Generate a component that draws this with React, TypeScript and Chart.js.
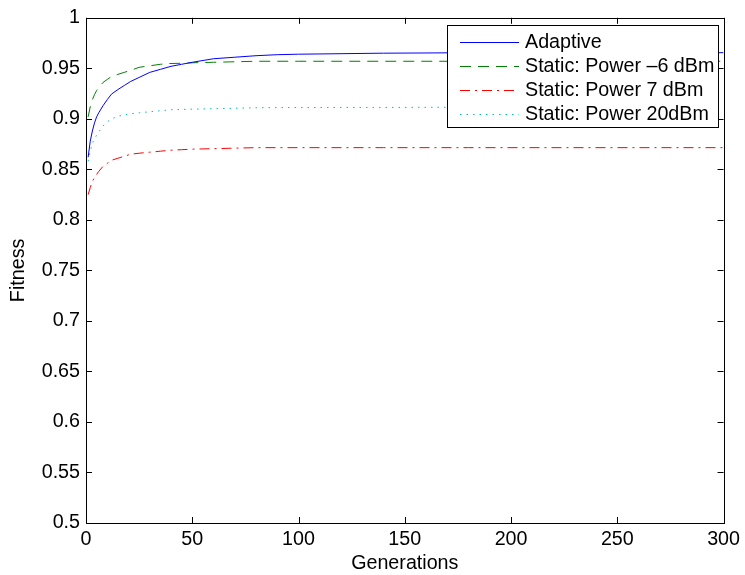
import React, { useEffect, useRef } from "react";
import { Chart, registerables } from "chart.js";
Chart.register(...registerables);

const generations = [1, 2, 3, 4, 5, 6, 8, 10, 12, 15, 18, 21, 25, 30, 35, 40, 45, 50, 60, 70, 80, 90, 100, 120, 140, 160, 180, 200, 250, 300];
const adaptive = [0.862, 0.878, 0.888, 0.896, 0.902, 0.906, 0.913, 0.919, 0.9245, 0.929, 0.933, 0.937, 0.941, 0.946, 0.949, 0.952, 0.954, 0.956, 0.9595, 0.961, 0.9625, 0.9635, 0.964, 0.9645, 0.965, 0.9652, 0.9655, 0.9655, 0.9655, 0.9655];
const staticMinus6 = [0.902, 0.912, 0.919, 0.924, 0.928, 0.931, 0.936, 0.939, 0.942, 0.944, 0.946, 0.948, 0.951, 0.9525, 0.954, 0.9548, 0.955, 0.9555, 0.956, 0.9565, 0.957, 0.957, 0.957, 0.957, 0.957, 0.957, 0.957, 0.957, 0.957, 0.957];
const static7 = [0.825, 0.832, 0.838, 0.842, 0.845, 0.848, 0.853, 0.856, 0.859, 0.861, 0.863, 0.865, 0.866, 0.867, 0.868, 0.869, 0.8695, 0.87, 0.8705, 0.871, 0.8715, 0.8715, 0.8715, 0.8715, 0.8715, 0.8715, 0.8715, 0.8715, 0.8715, 0.8715];
const static20 = [0.858, 0.868, 0.876, 0.88, 0.884, 0.887, 0.893, 0.897, 0.9, 0.9025, 0.904, 0.905, 0.906, 0.907, 0.908, 0.909, 0.9093, 0.9096, 0.91, 0.9105, 0.911, 0.9112, 0.9112, 0.9113, 0.9113, 0.9114, 0.9114, 0.9115, 0.9115, 0.9115];

const seriesLabels = ["Adaptive", "Static: Power \u20136 dBm", "Static: Power 7 dBm", "Static: Power 20dBm"];
const seriesColors = ["#0000ff", "#008000", "#ff0000", "#00bfbf"];
const seriesDashes: number[][] = [[], [11, 7], [10, 5, 2, 5], [1.5, 5]];

const xTicks = [0, 50, 100, 150, 200, 250, 300];
const yTicks = [0.5, 0.55, 0.6, 0.65, 0.7, 0.75, 0.8, 0.85, 0.9, 0.95, 1];

const FONT = "'Liberation Sans', Arial, Helvetica, sans-serif";
const FS = 19.7;

const boxPlugin = {
  id: "matlabBox",
  afterDraw(chart: any) {
    const ctx = chart.ctx;
    const { left, right, top, bottom } = chart.chartArea;
    const xs = chart.scales.x;
    const ys = chart.scales.y;
    ctx.save();
    ctx.strokeStyle = "#000";
    ctx.lineWidth = 1;
    const TL = 6;
    ctx.beginPath();
    xTicks.forEach((v) => {
      const px = Math.round(xs.getPixelForValue(v)) + 0.5;
      ctx.moveTo(px, bottom);
      ctx.lineTo(px, bottom - TL);
      ctx.moveTo(px, top);
      ctx.lineTo(px, top + TL);
    });
    yTicks.forEach((v) => {
      const py = Math.round(ys.getPixelForValue(v)) + 0.5;
      ctx.moveTo(left, py);
      ctx.lineTo(left + TL, py);
      ctx.moveTo(right, py);
      ctx.lineTo(right - TL, py);
    });
    ctx.stroke();
    ctx.strokeRect(Math.round(left) + 0.5, Math.round(top) + 0.5, Math.round(right - left), Math.round(bottom - top));

    // legend
    const lx = 447.5, ly = 25.5, lw = 271, lh = 102;
    ctx.fillStyle = "#fff";
    ctx.fillRect(lx, ly, lw, lh);
    ctx.strokeStyle = "#000";
    ctx.strokeRect(lx, ly, lw, lh);
    ctx.font = `${FS}px ${FONT}`;
    ctx.textBaseline = "middle";
    ctx.textAlign = "left";
    const rows = [41.5, 65.5, 90, 114];
    seriesLabels.forEach((lab, i) => {
      ctx.strokeStyle = seriesColors[i];
      ctx.setLineDash(seriesDashes[i]);
      ctx.beginPath();
      ctx.moveTo(460, Math.round(rows[i]) + 0.5);
      ctx.lineTo(519, Math.round(rows[i]) + 0.5);
      ctx.stroke();
      ctx.setLineDash([]);
      ctx.fillStyle = "#000";
      ctx.fillText(lab, 525, rows[i] + 1);
    });
    ctx.restore();
  },
};

export default function App() {
  const ref = useRef<HTMLCanvasElement | null>(null);
  useEffect(() => {
    if (!ref.current) return;
    const series = [adaptive, staticMinus6, static7, static20];
    const chart = new Chart(ref.current, {
      type: "line",
      data: {
        datasets: series.map((s, i) => ({
          label: seriesLabels[i],
          data: generations.map((g, j) => ({ x: g, y: s[j] })),
          borderColor: seriesColors[i],
          borderWidth: 1,
          borderDash: seriesDashes[i],
          pointRadius: 0,
          tension: 0,
          fill: false,
        })),
      },
      options: {
        animation: false,
        responsive: false,
        devicePixelRatio: 1,
        layout: { padding: { top: 15, right: 16, left: 0, bottom: 0 } },
        plugins: { legend: { display: false }, tooltip: { enabled: false } },
        scales: {
          x: {
            type: "linear",
            min: 0,
            max: 300,
            grid: { display: false, drawTicks: false },
            border: { display: false },
            afterBuildTicks: (s: any) => { s.ticks = xTicks.map((v) => ({ value: v })); },
            afterFit: (s: any) => { s.height = 52; },
            ticks: { color: "#000", font: { family: FONT, size: FS }, padding: 5, maxRotation: 0, callback: (v: any) => String(v) },
            title: { display: true, text: "Generations", color: "#000", font: { family: FONT, size: FS }, padding: { top: 0, bottom: 0 } },
          },
          y: {
            type: "linear",
            min: 0.5,
            max: 1,
            grid: { display: false, drawTicks: false },
            border: { display: false },
            afterBuildTicks: (s: any) => { s.ticks = yTicks.map((v) => ({ value: v })); },
            afterFit: (s: any) => { s.width = 86; },
            ticks: { color: "#000", font: { family: FONT, size: FS }, padding: 6, callback: (v: any) => String(Number(Number(v).toFixed(2))) },
            title: { display: true, text: "Fitness", color: "#000", font: { family: FONT, size: FS }, padding: { top: 7, bottom: 0 } },
          },
        },
      },
      plugins: [boxPlugin],
    });
    return () => chart.destroy();
  }, []);
  return (
    <div style={{ position: "absolute", left: 0, top: 0, width: 745, height: 575, background: "#fff" }}>
      <canvas ref={ref} width={745} height={575} style={{ display: "block" }} />
    </div>
  );
}
